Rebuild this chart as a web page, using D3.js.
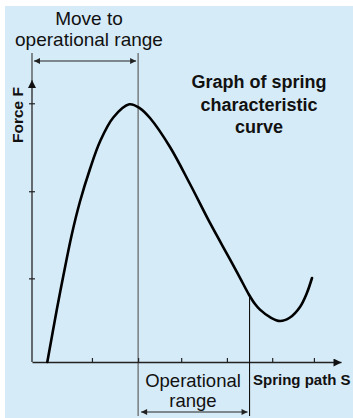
<!DOCTYPE html>
<html>
<head>
<meta charset="utf-8">
<script src="https://cdn.jsdelivr.net/npm/d3@7/dist/d3.min.js"></script>
<style>
  html, body { margin: 0; padding: 0; background: #ffffff; }
  svg { display: block; }
  text { font-family: "Liberation Sans", Arial, Helvetica, sans-serif; fill: #111; }
</style>
</head>
<body>
<svg id="chart" width="353" height="418"></svg>
<script>
// Spring characteristic curve: force F over spring path S (arbitrary units)
const springPath = [0.345, 0.556, 0.705, 0.894, 1.081, 1.306, 1.532, 1.831, 2.192, 2.432, 2.658, 3.108, 3.559, 4.009, 4.46, 4.685, 4.888, 5.023, 5.135, 5.361, 5.586, 5.811, 6.036, 6.187, 6.307];
const springForce = [0.0, 0.599, 0.997, 1.473, 1.861, 2.238, 2.557, 2.835, 2.988, 2.942, 2.829, 2.493, 2.064, 1.612, 1.19, 0.976, 0.78, 0.672, 0.607, 0.52, 0.475, 0.516, 0.638, 0.794, 0.974];

const pathTicks = [1.35, 2.39, 3.36, 4.39, 5.41, 6.35];
const forceTicks = [0.97, 1.98, 3.0];

const pathExtent = [0, 6.96];
const forceExtent = [0, 3.27];

// Ranges marked under and above the plot
const moveRange = [0, 2.39];
const operationalRange = [2.39, 4.9];

const titleLines = ["Graph of spring", "characteristic", "curve"];
const moveLabel = ["Move to", "operational range"];
const operationalLabel = ["Operational", "range"];
const xAxisLabel = "Spring path S";
const yAxisLabel = "Force F";

const svg = d3.select("#chart");
const W = 353, H = 418;

svg.append("rect")
  .attr("x", 5).attr("y", 6)
  .attr("width", W - 5).attr("height", H - 6)
  .attr("fill", "#d6ebf8");

const x = d3.scaleLinear().domain(pathExtent).range([32, 341]);
const y = d3.scaleLinear().domain(forceExtent).range([362, 80]);

const defs = svg.append("defs");
defs.append("marker")
  .attr("id", "axisHead")
  .attr("viewBox", "0 0 10 10")
  .attr("refX", 10).attr("refY", 5)
  .attr("markerUnits", "userSpaceOnUse")
  .attr("markerWidth", 9).attr("markerHeight", 8)
  .attr("orient", "auto")
  .append("path").attr("d", "M0,0L10,5L0,10Z").attr("fill", "#111");
defs.append("marker")
  .attr("id", "rangeHead")
  .attr("viewBox", "0 0 10 10")
  .attr("refX", 10).attr("refY", 5)
  .attr("markerUnits", "userSpaceOnUse")
  .attr("markerWidth", 10).attr("markerHeight", 6)
  .attr("orient", "auto-start-reverse")
  .append("path").attr("d", "M0,0L10,5L0,10Z").attr("fill", "#222");

// Guide lines bounding the marked ranges
const guideTop = 53, guideBottom = 416;
svg.append("line")
  .attr("x1", x(moveRange[0])).attr("x2", x(moveRange[0]))
  .attr("y1", guideTop).attr("y2", y(forceExtent[1]))
  .attr("stroke", "#444").attr("stroke-width", 1.2);
svg.append("line")
  .attr("x1", x(moveRange[1])).attr("x2", x(moveRange[1]))
  .attr("y1", guideTop).attr("y2", guideBottom)
  .attr("stroke", "#555").attr("stroke-width", 1.1);

// Axes
const xAxis = d3.axisBottom(x).tickValues(pathTicks).tickSizeInner(-4).tickSizeOuter(0).tickFormat("");
const gx = svg.append("g").attr("transform", `translate(0,${y(0)})`).call(xAxis);
gx.select(".domain").attr("stroke", "#222").attr("stroke-width", 1.4).attr("marker-end", "url(#axisHead)");
gx.selectAll(".tick line").attr("stroke", "#222").attr("stroke-width", 1.2);

const yAxis = d3.axisLeft(y).tickValues(forceTicks).tickSizeInner(3).tickSizeOuter(0).tickFormat("");
const gy = svg.append("g").attr("transform", `translate(${x(0)},0)`).call(yAxis);
gy.select(".domain").attr("stroke", "#333").attr("stroke-width", 1.4).attr("marker-end", "url(#axisHead)")
  .attr("d", `M0,${y(0)}V${y(forceExtent[1])}`);
gy.selectAll(".tick line").attr("x1", 3).attr("x2", -3).attr("stroke", "#222").attr("stroke-width", 1.2);

// Right bound of the operational range, from the curve down
const curveAtEnd = d3.scaleLinear().domain(springPath).range(springForce)(operationalRange[1]);
svg.append("line")
  .attr("x1", x(operationalRange[1])).attr("x2", x(operationalRange[1]))
  .attr("y1", y(curveAtEnd)).attr("y2", guideBottom)
  .attr("stroke", "#111").attr("stroke-width", 1.1);

// Characteristic curve
const line = d3.line()
  .x((d, i) => x(springPath[i]))
  .y((d, i) => y(springForce[i]))
  .curve(d3.curveCatmullRom.alpha(0.5));
svg.append("path")
  .attr("d", line(springPath))
  .attr("fill", "none")
  .attr("stroke", "#000")
  .attr("stroke-width", 2.6)
  .attr("stroke-linecap", "round");

// Range arrows
svg.append("line")
  .attr("x1", x(moveRange[0]) + 2).attr("x2", x(moveRange[1]) - 2)
  .attr("y1", 61).attr("y2", 61)
  .attr("stroke", "#222").attr("stroke-width", 1.2)
  .attr("marker-start", "url(#rangeHead)").attr("marker-end", "url(#rangeHead)");
svg.append("line")
  .attr("x1", x(operationalRange[0]) + 3).attr("x2", x(operationalRange[1]) - 2)
  .attr("y1", 412).attr("y2", 412)
  .attr("stroke", "#222").attr("stroke-width", 1.2)
  .attr("marker-start", "url(#rangeHead)").attr("marker-end", "url(#rangeHead)");

// Labels
svg.append("g").selectAll("text").data(moveLabel).join("text")
  .attr("x", 89).attr("y", (d, i) => 25 + i * 21)
  .attr("text-anchor", "middle")
  .attr("font-size", 19)
  .text(d => d);

svg.append("g").selectAll("text").data(operationalLabel).join("text")
  .attr("x", 193).attr("y", (d, i) => 387 + i * 20)
  .attr("text-anchor", "middle")
  .attr("font-size", 18.5)
  .text(d => d);

svg.append("g").selectAll("text").data(titleLines).join("text")
  .attr("x", 259).attr("y", (d, i) => 88 + i * 22.5)
  .attr("text-anchor", "middle")
  .attr("font-size", 18)
  .attr("font-weight", "bold")
  .text(d => d);

svg.append("text")
  .attr("x", 253).attr("y", 385)
  .attr("font-size", 15)
  .attr("font-weight", "bold")
  .text(xAxisLabel);

svg.append("text")
  .attr("transform", "translate(23,115) rotate(-90)")
  .attr("text-anchor", "middle")
  .attr("font-size", 15.5)
  .attr("font-weight", "bold")
  .text(yAxisLabel);
</script>
</body>
</html>
